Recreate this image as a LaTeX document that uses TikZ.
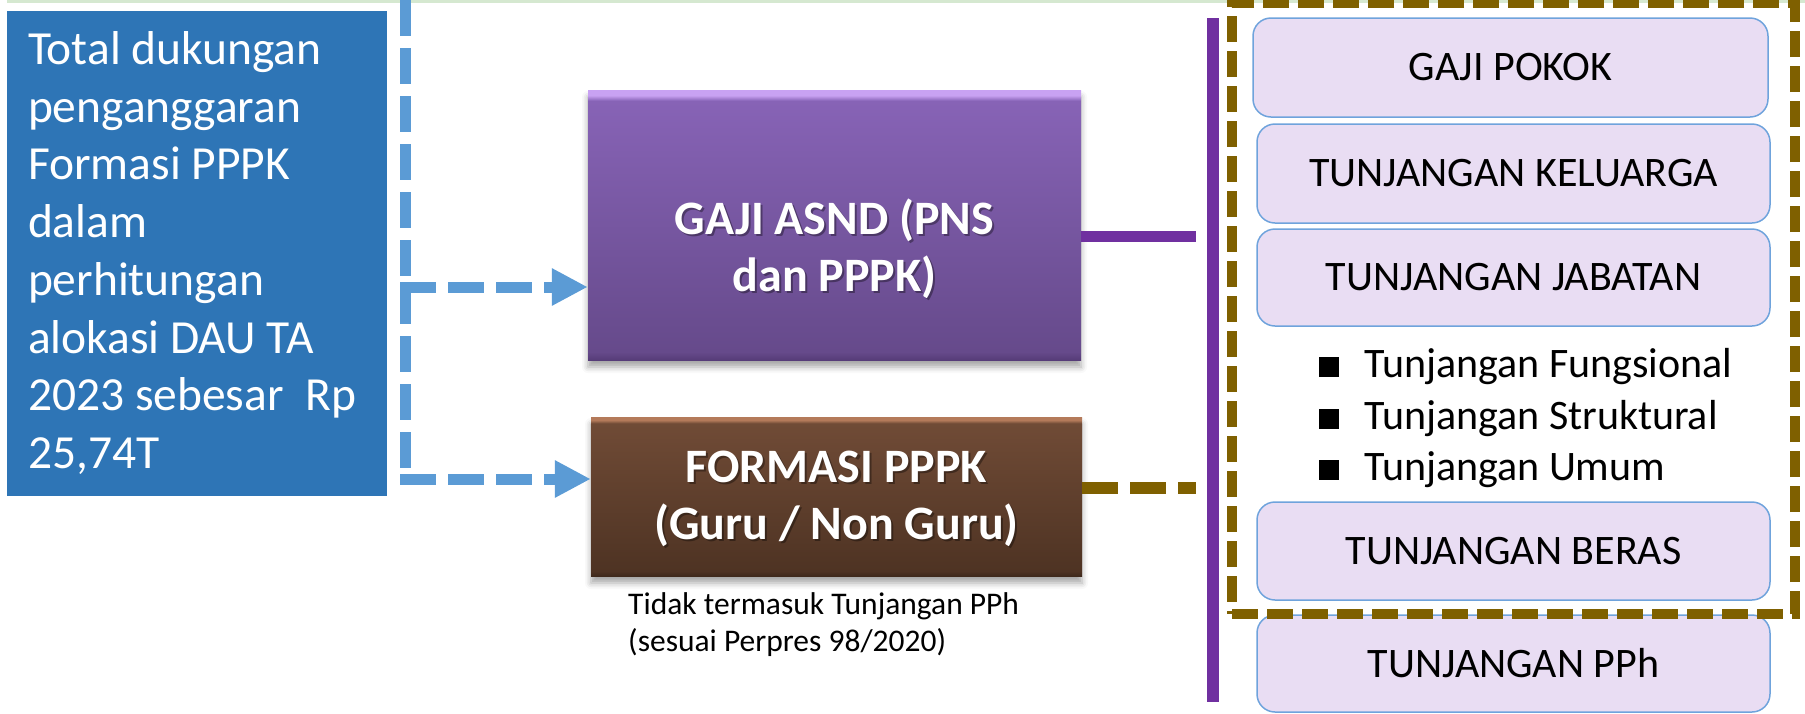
\documentclass[tikz,border=0pt]{standalone}
\usepackage{fontspec}
\setmainfont{Carlito}
\usetikzlibrary{arrows.meta,shadows.blur,calc}
\definecolor{boxblue}{HTML}{2E75B6}
\definecolor{dashblue}{HTML}{5B9BD5}
\definecolor{lineviolet}{HTML}{7030A0}
\definecolor{olivebrown}{HTML}{7F6000}
\definecolor{lav}{HTML}{E9DDF3}
\definecolor{lavedge}{HTML}{6FA3DC}
\definecolor{ptop}{HTML}{8763B6}
\definecolor{pbot}{HTML}{664A8B}
\definecolor{phigh}{HTML}{C8A2F2}
\definecolor{pdark}{HTML}{563C78}
\definecolor{btop}{HTML}{704B36}
\definecolor{bbot}{HTML}{4E3323}
\definecolor{bhigh}{HTML}{B47A5A}
\definecolor{bdark}{HTML}{3F291C}
\definecolor{topgreen}{HTML}{D5E8D0}
\pgfdeclareverticalshading{purpshade}{100bp}{color(0bp)=(pdark); color(25bp)=(pdark); color(26.5bp)=(pbot); color(73bp)=(ptop); color(74bp)=(phigh); color(100bp)=(phigh)}
\pgfdeclareverticalshading{brownshade}{100bp}{color(0bp)=(bdark); color(25bp)=(bdark); color(26.5bp)=(bbot); color(73bp)=(btop); color(74bp)=(bhigh); color(100bp)=(bhigh)}
\newcommand{\bsq}{\rule{20pt}{20pt}}
\tikzset{
  bluebox/.style={fill=boxblue, minimum width=380pt, minimum height=485pt, text width=338pt, inner xsep=21pt, inner ysep=0pt, align=flush left, text=white, font=\fontsize{47.5}{57.7}\selectfont},
  bigbox/.style={minimum width=#1, inner sep=0pt, blur shadow={shadow xshift=0pt, shadow yshift=-7pt, shadow blur radius=6pt, shadow opacity=35}},
  boxtitle/.style={text=white, align=center, inner sep=0pt, font=\fontsize{48}{57.6}\selectfont\bfseries},
  titleshadow/.style={boxtitle, text=black, text opacity=0.35},
  lavbox/.style={fill=lav, draw=lavedge, line width=1.5pt, rounded corners=18pt, minimum width=513pt, inner sep=0pt, font=\fontsize{42}{50}\selectfont},
  bulletitem/.style={anchor=base west, inner sep=0pt, font=\fontsize{42}{50}\selectfont},
  captiontext/.style={anchor=north west, inner sep=0pt, align=left, font=\fontsize{31.5}{37.5}\selectfont},
  bluedash/.style={draw=dashblue, line width=11pt, dash pattern=on 36pt off 12pt},
  bluearrow/.style={bluedash, -{Triangle[length=36pt,width=35pt]}},
  violetline/.style={draw=lineviolet, line width=11.5pt},
  olivedash/.style={draw=olivebrown, line width=12pt, dash pattern=on 36pt off 12pt},
  frame/.style={draw=olivebrown, line width=9.5pt, dash pattern=on 26pt off 9pt, minimum width=563pt, minimum height=611pt, inner sep=0pt},
}
\begin{document}
\begin{tikzpicture}[x=1pt, y=-1pt]
\useasboundingbox (0,0) rectangle (1805,713);
% top thin line
\coordinate (g1) at (7,1.25);
\coordinate (g2) at (1805,1.25);
\draw[topgreen, line width=2.5pt] (g1) -- (g2);
% left box
\node[bluebox] (total) at (197,253) {Total dukungan\\penganggaran\\Formasi PPPK\\dalam\\perhitungan\\alokasi DAU TA\\2023 sebesar\ \ Rp\\25,74T};
% middle boxes
\node[bigbox=493pt, minimum height=270pt, shading=purpshade] (gaji) at (834.5,225) {};
\node[titleshadow] (gajishadow) at (836.5,251) {GAJI ASND (PNS\\dan PPPK)};
\node[boxtitle] (gajitext) at (834.5,249) {GAJI ASND (PNS\\dan PPPK)};
\node[bigbox=491pt, minimum height=159pt, shading=brownshade] (formasi) at (836.5,496.5) {};
\node[titleshadow] (formasishadow) at (838.5,501) {FORMASI PPPK\\(Guru / Non Guru)};
\node[boxtitle] (formasitext) at (836.5,499) {FORMASI PPPK\\(Guru / Non Guru)};
\node[captiontext] (note) at (628,592) {Tidak termasuk Tunjangan PPh\\(sesuai Perpres 98/2020)};
% blue dashed connectors
\coordinate (vt) at (405.5,0);
\coordinate (vb) at (405.5,485);
\draw[bluedash] (vt) -- (vb);
\coordinate (a1) at (400,287);
\coordinate (a2) at (400,479);
\draw[bluearrow] (a1) -- (gaji.west |- a1);
\draw[bluearrow] (a2) -- (formasi.west |- a2);
% right list
\node[lavbox, minimum width=515pt, minimum height=99pt] (pokok) at (1510.5,67.5) {GAJI POKOK};
\node[lavbox, minimum height=99pt] (keluarga) at (1513.5,173.5) {TUNJANGAN KELUARGA};
\node[lavbox, minimum height=97pt] (jabatan) at (1513.5,277.5) {TUNJANGAN JABATAN};
\node[bulletitem] (fung) at (1319,377) {\bsq\hspace{25pt}Tunjangan Fungsional};
\node[bulletitem] (struk) at (1319,429) {\bsq\hspace{25pt}Tunjangan Struktural};
\node[bulletitem] (umum) at (1319,480) {\bsq\hspace{25pt}Tunjangan Umum};
\node[lavbox, minimum height=98pt] (beras) at (1513.5,551) {TUNJANGAN BERAS};
\node[lavbox, minimum height=97pt] (pph) at (1513.5,663.5) {TUNJANGAN PPh};
\node[frame] (grp) at (1513.5,308.5) {};
% purple and olive connectors
\coordinate (p1) at (1196,236.5);
\draw[violetline] (gaji.east |- p1) -- (p1);
\coordinate (vp1) at (1213,18);
\coordinate (vp2) at (1213,702);
\draw[violetline, line width=12pt] (vp1) -- (vp2);
\coordinate (q1) at (1196,488);
\draw[olivedash] (formasi.east |- q1) -- (q1);
\end{tikzpicture}
\end{document}
